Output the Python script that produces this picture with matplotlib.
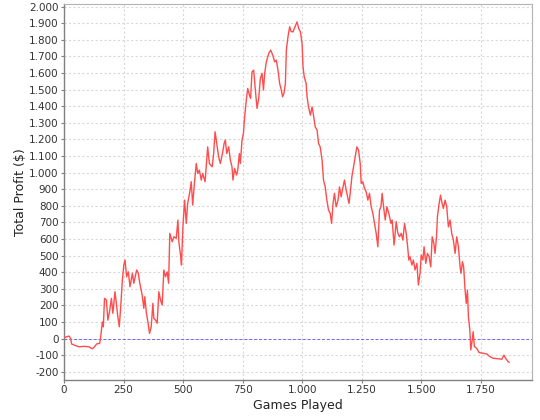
import numpy as np
import matplotlib
matplotlib.use("Agg")
import matplotlib.pyplot as plt
from matplotlib.ticker import FuncFormatter, MultipleLocator

# ---------------------------
# Data
# ---------------------------
games = [
    0, 21, 28, 32, 49, 63, 84, 105, 119, 126, 137, 150, 154, 161, 165, 170,
    178, 184, 191, 199, 205, 214, 221, 226, 232, 238, 245, 251, 256, 263, 270,
    277, 287, 293, 305, 312, 318, 328, 335, 339, 346, 353, 359, 366, 373, 377,
    384, 391, 398, 405, 412, 419, 426, 433, 439, 444, 454, 461, 471, 478, 482,
    489, 493, 499, 506, 513, 519, 527, 534, 540, 546, 555, 561, 568, 576, 582,
    592, 598, 603, 610, 622, 628, 634, 641, 649, 656, 665, 672, 677, 683, 691,
    698, 705, 709, 716, 724, 729, 736, 740, 747, 753, 758, 765, 771, 778, 783,
    789, 796, 803, 810, 817, 824, 831, 837, 842, 849, 859, 867, 876, 884, 891,
    898, 905, 912, 917, 923, 929, 933, 940, 947, 953, 961, 969, 978, 985, 992,
    999, 1003, 1008, 1016, 1020, 1026, 1034, 1041, 1047, 1054, 1062, 1068,
    1075, 1083, 1089, 1096, 1103, 1110, 1117, 1123, 1129, 1135, 1142, 1150,
    1156, 1163, 1171, 1177, 1184, 1190, 1196, 1201, 1208, 1215, 1222, 1229,
    1236, 1243, 1247, 1254, 1261, 1268, 1275, 1282, 1289, 1296, 1303, 1310,
    1317, 1324, 1330, 1335, 1341, 1348, 1355, 1363, 1372, 1377, 1385, 1394,
    1401, 1408, 1415, 1422, 1429, 1436, 1442, 1447, 1452, 1460, 1466, 1473,
    1481, 1487, 1494, 1499, 1506, 1511, 1518, 1525, 1532, 1539, 1545, 1552,
    1557, 1563, 1567, 1574, 1580, 1585, 1592, 1599, 1606, 1613, 1620, 1627,
    1634, 1641, 1648, 1655, 1662, 1666, 1672, 1677, 1683, 1688, 1693, 1697,
    1703, 1707, 1713, 1717, 1722, 1732, 1742, 1753, 1774, 1788, 1801, 1822,
    1837, 1846, 1853, 1864, 1868,
]
profit = [
    5, 15, 0, -33, -43, -50, -47, -50, -62, -53, -33, -28, 10, 100, 70, 242,
    232, 111, 161, 242, 152, 282, 192, 131, 71, 192, 352, 443, 473, 372, 402,
    312, 393, 333, 413, 393, 333, 262, 182, 252, 152, 92, 31, 71, 212, 122,
    111, 92, 282, 232, 202, 413, 372, 402, 333, 634, 583, 613, 604, 714, 583,
    503, 443, 673, 834, 694, 814, 875, 945, 804, 914, 1055, 995, 1015, 955,
    995, 945, 1055, 1155, 1055, 1035, 1115, 1246, 1176, 1095, 1055, 1115, 1176,
    1196, 1115, 1155, 1075, 1035, 955, 1025, 985, 1015, 1115, 1055, 1196, 1236,
    1336, 1437, 1507, 1467, 1447, 1607, 1617, 1497, 1387, 1447, 1567, 1598,
    1497, 1598, 1667, 1718, 1738, 1708, 1667, 1678, 1617, 1537, 1497, 1457,
    1477, 1537, 1738, 1819, 1879, 1850, 1848, 1878, 1908, 1868, 1848, 1778,
    1637, 1577, 1537, 1457, 1396, 1346, 1396, 1346, 1276, 1256, 1176, 1155,
    1075, 955, 914, 834, 774, 754, 694, 814, 875, 794, 834, 914, 854, 914, 955,
    895, 854, 814, 875, 975, 1035, 1095, 1155, 1135, 1055, 935, 945, 905, 884,
    834, 875, 794, 754, 694, 634, 553, 774, 794, 875, 794, 714, 794, 754, 694,
    714, 563, 704, 634, 613, 634, 593, 694, 634, 553, 473, 493, 443, 473, 413,
    453, 322, 393, 503, 473, 553, 453, 513, 493, 432, 613, 573, 513, 613, 734,
    814, 864, 824, 784, 834, 794, 673, 714, 634, 593, 513, 613, 553, 432, 393,
    463, 432, 292, 212, 292, 131, 51, -69, -9, 41, -49, -59, -85, -87, -93,
    -110, -119, -122, -125, -100, -119, -140, -143,
]

y_ticks = list(range(-200, 2001, 100))
x_ticks = list(range(0, 1751, 250))


def dotted_thousands(v, pos=None):
    return f"{v:,.0f}".replace(",", ".")


# ---------------------------
# Plot
# ---------------------------
fig = plt.figure(figsize=(5.4, 4.2), dpi=100)
ax = fig.add_axes([0.1185, 0.0964, 0.8672, 0.8929])

ax.plot(games, profit, color="#ff4c4c", lw=1.0, zorder=3)
ax.axhline(0, color="#6a6aff", lw=0.7, linestyle=(0, (3, 2)), zorder=2.5)

ax.set_xlim(0, 1965)
ax.set_ylim(-247, 2013)
ax.set_yticks(y_ticks)
ax.set_xticks(x_ticks)
ax.yaxis.set_major_formatter(FuncFormatter(dotted_thousands))
ax.xaxis.set_major_formatter(FuncFormatter(dotted_thousands))

ax.grid(True, color="#d8d8d8", lw=0.8, linestyle=(0, (2, 2)))
ax.set_axisbelow(True)

for side in ["top", "right"]:
    ax.spines[side].set_color("#b4b4b4")
for side in ["left", "bottom"]:
    ax.spines[side].set_color("#808080")
    ax.spines[side].set_linewidth(1.0)

ax.tick_params(axis="both", labelsize=7.5, colors="#808080", labelcolor="#333333",
               length=2, width=0.8, pad=2)

ax.set_xlabel("Games Played", fontsize=9, color="#222222", labelpad=3)
ax.set_ylabel("Total Profit ($)", fontsize=9, color="#222222", labelpad=1)

fig.savefig("out.png", dpi=100)
